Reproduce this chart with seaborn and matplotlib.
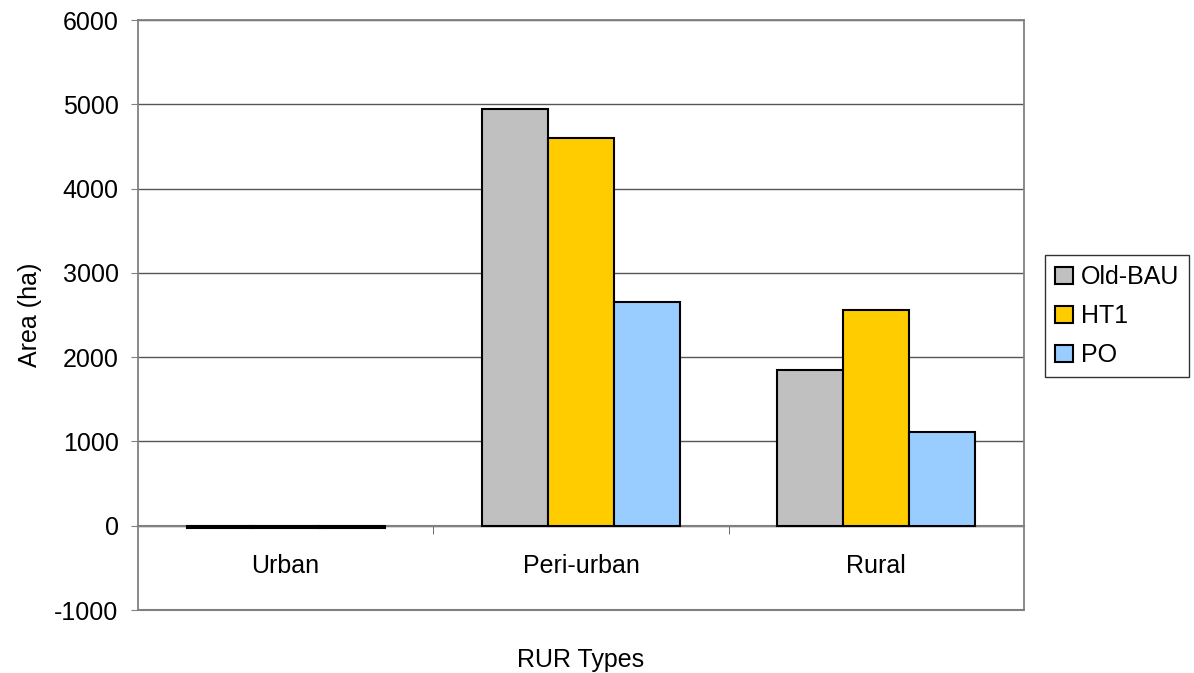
import pandas as pd
import numpy as np
import matplotlib.pyplot as plt
import seaborn as sns

# data
categories = ['Urban', 'Peri-urban', 'Rural']
scenarios = ['Old-BAU', 'HT1', 'PO']
old_bau = [-25, 4950, 1845]
ht1 = [-25, 4600, 2555]
po = [-25, 2650, 1110]

colors = ['#C0C0C0', '#FFCC00', '#99CCFF']

df = pd.DataFrame({
    'RUR': categories * 3,
    'Scenario': np.repeat(scenarios, 3),
    'Area': old_bau + ht1 + po,
})

sns.set_style('white')
plt.rcParams['font.family'] = ['Liberation Sans', 'DejaVu Sans']
plt.rcParams['axes.unicode_minus'] = False
plt.rcParams['text.color'] = 'black'
plt.rcParams['axes.labelcolor'] = 'black'

fig = plt.figure(figsize=(11.94, 6.73), dpi=100)
ax = fig.add_axes([0.1156, 0.0936, 0.742, 0.8764])

sns.barplot(data=df, x='RUR', y='Area', hue='Scenario', order=categories,
            hue_order=scenarios, palette=colors, saturation=1, width=0.67,
            edgecolor='black', linewidth=1.5, errorbar=None, ax=ax, zorder=3)

ax.set_ylim(-1000, 6000)
ax.set_yticks(range(-1000, 6001, 1000))
ax.set_xlim(-0.5, 2.5)
ax.yaxis.grid(True, color='#555555', linewidth=1, zorder=0)
ax.set_axisbelow(True)

# category axis crosses at zero, like the original
ax.spines['bottom'].set_position(('data', 0))
ax.axhline(-1000, color='#808080', linewidth=1.5, clip_on=False, zorder=2)
ax.set_xticks([0.5, 1.5], minor=True)

for s in ax.spines.values():
    s.set_color('#808080')
    s.set_linewidth(1.3)
ax.spines['bottom'].set_linewidth(1.5)

ax.tick_params(axis='y', length=5, color='#808080', direction='out', left=True,
               labelsize=18, pad=9, labelcolor='black')
ax.tick_params(axis='x', which='major', length=0, labelsize=18, pad=20, labelcolor='black')
ax.tick_params(axis='x', which='minor', length=6, color='#555555', direction='out', bottom=True)

ax.set_xlabel('RUR Types', fontsize=18)
ax.xaxis.set_label_coords(0.5, -0.064)
ax.set_ylabel('Area (ha)', fontsize=18, labelpad=9)

leg = ax.legend(loc='center left', bbox_to_anchor=(1.024, 0.498), frameon=True,
                fancybox=False, edgecolor='black', fontsize=18, handlelength=0.72,
                handleheight=0.72, handletextpad=0.3, labelspacing=0.6,
                borderpad=0.4, borderaxespad=0)
leg.get_frame().set_linewidth(1)

fig.savefig('out.png', dpi=100)
